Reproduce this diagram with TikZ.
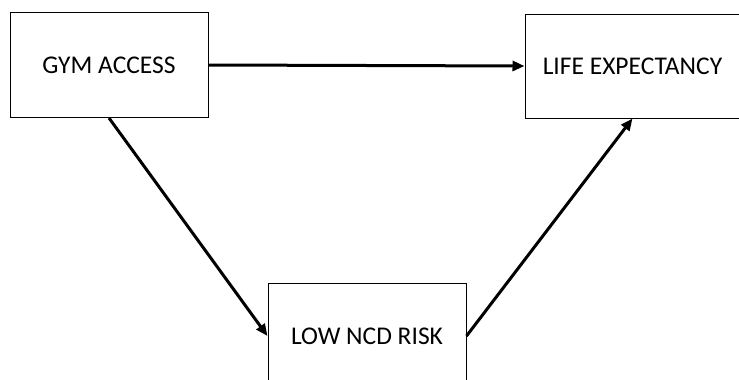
\documentclass[tikz,border=0pt]{standalone}
\usepackage{fontspec}
\setmainfont{Carlito}
\usetikzlibrary{positioning,arrows.meta}

\begin{document}
\begin{tikzpicture}[
  x=1pt, y=1pt,
  >={Triangle[length=12pt,width=10pt]},
  font=\fontsize{25.5}{30}\selectfont,
  factor/.style={draw, line width=1pt, fill=white, inner sep=3pt, align=center, minimum width=198pt, minimum height=105pt},
  path/.style={->, line width=3pt}
]

% Fix the frame of the picture
\useasboundingbox (0,0) rectangle (739,-380);
\clip (0,0) rectangle (739,-380);

% Boxes
\node[factor] (gym) at (109,-65) {GYM ACCESS};
\node[factor, minimum width=215pt, minimum height=104pt] (life) at (632.5,-66) {LIFE EXPECTANCY};
\node[factor] (ncd) at (367,-336) {LOW NCD RISK};

% Direct effect
\draw[path] (gym.east) -- (life.west);

% Through the mediator
\draw[path] (gym.south) -- (ncd.west);
\draw[path] (ncd.east) -- (life.south);

\end{tikzpicture}
\end{document}
